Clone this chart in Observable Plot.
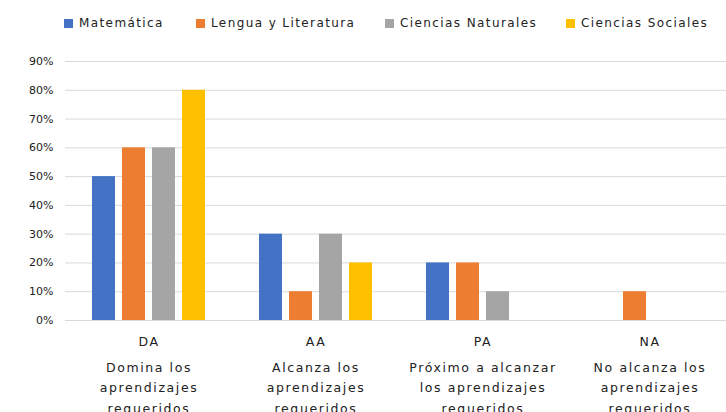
<!DOCTYPE html>
<html>
<head>
<meta charset="utf-8">
<script src="https://cdn.jsdelivr.net/npm/d3@7"></script>
<script src="https://cdn.jsdelivr.net/npm/@observablehq/plot@0.6"></script>
<style>
  html, body { margin: 0; padding: 0; background: white; overflow: hidden; width: 726px; height: 412px; }
  #legend { position: relative; height: 40px; width: 726px; font-family: "DejaVu Sans", sans-serif; font-size: 12px; letter-spacing: 1.4px; color: #222; }
  .item { position: absolute; top: 16px; display: flex; align-items: center; white-space: nowrap; }
  .sw { width: 9px; height: 9px; margin-right: 6px; display: inline-block; }
  #chart svg { display: block; }
  #chart svg g[aria-label="fx-axis tick label"] text { letter-spacing: 1.6px; }
</style>
</head>
<body>
<div id="legend"></div>
<div id="chart"></div>
<script>
const categories = ["DA", "AA", "PA", "NA"];
const descriptions = [
  "Domina los\naprendizajes\nrequeridos",
  "Alcanza los\naprendizajes\nrequeridos",
  "Próximo a alcanzar\nlos aprendizajes\nrequeridos",
  "No alcanza los\naprendizajes\nrequeridos"
];
const subjects = ["Matemática", "Lengua y Literatura", "Ciencias Naturales", "Ciencias Sociales"];
const matematica = [0.5, 0.3, 0.2, 0];
const lengua = [0.6, 0.1, 0.2, 0.1];
const naturales = [0.6, 0.3, 0.1, 0];
const sociales = [0.8, 0.2, 0, 0];
const colors = ["#4472C4", "#ED7D31", "#A5A5A5", "#FFC000"];
const yTicks = [0, 0.1, 0.2, 0.3, 0.4, 0.5, 0.6, 0.7, 0.8, 0.9];

const series = [matematica, lengua, naturales, sociales];
const data = [];
categories.forEach((c, i) => {
  subjects.forEach((s, j) => {
    data.push({cat: c, subject: s, value: series[j][i]});
  });
});

// legend
const legendX = [64, 196, 385, 566];
const legend = document.getElementById("legend");
subjects.forEach((s, i) => {
  const it = document.createElement("div");
  it.className = "item";
  it.style.left = legendX[i] + "px";
  it.innerHTML = `<span class="sw" style="background:${colors[i]}"></span><span>${s}</span>`;
  legend.appendChild(it);
});

const chart = Plot.plot({
  width: 726,
  height: 372,
  marginLeft: 65,
  marginRight: -7,
  marginTop: 21,
  marginBottom: 92,
  style: {fontFamily: "DejaVu Sans, sans-serif", color: "#222", background: "white"},
  fx: {domain: categories, padding: 0},
  x: {domain: subjects, paddingInner: 0.246, paddingOuter: 0.86, axis: null},
  y: {domain: [0, 0.9]},
  color: {domain: subjects, range: colors},
  marks: [
    Plot.gridY(yTicks, {stroke: "#d9d9d9", strokeOpacity: 1}),
    Plot.barY(data.filter(d => d.value > 0), {fx: "cat", x: "subject", y: "value", fill: "subject"}),
    Plot.axisY(yTicks, {tickFormat: d3.format(".0%"), tickSize: 0, tickPadding: 12, fontSize: 11, label: null}),
    Plot.axisFx({anchor: "bottom", tickSize: 0, tickPadding: 17, fontSize: 12.5, label: null}),
    Plot.axisFx({anchor: "bottom", tickSize: 0, tickPadding: 37, fontSize: 12.5, lineHeight: 1.63, label: null,
      tickFormat: (d) => descriptions[categories.indexOf(d)]})
  ]
});
document.getElementById("chart").appendChild(chart);
</script>
</body>
</html>
